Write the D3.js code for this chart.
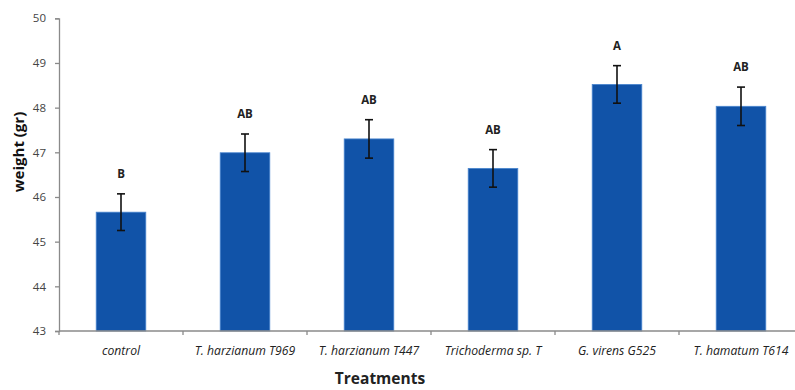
<!DOCTYPE html>
<html>
  <head>
    <meta charset="UTF-8">
    <script src="https://d3js.org/d3.v7.min.js"></script>
    <style>
      body { margin: 0; background: #fff; }
      text { font-family: "Open Sans", "DejaVu Sans", sans-serif; }
    </style>
  </head>
  <body>
    <svg id="f1" width="795" height="390"></svg>
    <script>
    // data
    var treatments = ["control", "T. harzianum T969", "T. harzianum T447", "Trichoderma sp. T", "G. virens G525", "T. hamatum T614"];
    var weights = [45.66, 46.99, 47.30, 46.64, 48.52, 48.03];
    var errors = [0.41, 0.42, 0.43, 0.42, 0.42, 0.43];
    var groups = ["B", "AB", "AB", "AB", "A", "AB"];
    var yTicks = [43, 44, 45, 46, 47, 48, 49, 50];

    var svg = d3.select("#f1");
    var x0 = 59, x1 = 803, yBottom = 331, yTop = 18.3;

    var x = d3.scaleBand()
      .domain(treatments)
      .range([x0, x1])
      .paddingInner(0.6)
      .paddingOuter(0.3);

    var y = d3.scaleLinear()
      .domain([43, 50])
      .range([yBottom, yTop]);

    // bars
    svg.selectAll(".bar")
      .data(treatments)
      .enter().append("rect")
      .attr("class", "bar")
      .attr("x", function(d) { return x(d); })
      .attr("width", x.bandwidth())
      .attr("y", function(d, i) { return y(weights[i]); })
      .attr("height", function(d, i) { return yBottom - y(weights[i]); })
      .attr("fill", "#1153a8")
      .attr("stroke", "#4a86cf")
      .attr("stroke-width", 0.8);

    // error bars
    var eb = svg.selectAll(".err")
      .data(treatments)
      .enter().append("g")
      .attr("class", "err")
      .attr("stroke", "#111")
      .attr("stroke-width", 1.6);
    eb.append("line")
      .attr("x1", function(d) { return x(d) + x.bandwidth() / 2; })
      .attr("x2", function(d) { return x(d) + x.bandwidth() / 2; })
      .attr("y1", function(d, i) { return y(weights[i] + errors[i]); })
      .attr("y2", function(d, i) { return y(weights[i] - errors[i]); });
    [1, -1].forEach(function(s) {
      eb.append("line")
        .attr("x1", function(d) { return x(d) + x.bandwidth() / 2 - 4; })
        .attr("x2", function(d) { return x(d) + x.bandwidth() / 2 + 4; })
        .attr("y1", function(d, i) { return y(weights[i] + s * errors[i]); })
        .attr("y2", function(d, i) { return y(weights[i] + s * errors[i]); });
    });

    // significance letters
    svg.selectAll(".grp")
      .data(treatments)
      .enter().append("text")
      .attr("x", function(d) { return x(d) + x.bandwidth() / 2; })
      .attr("y", function(d, i) { return y(weights[i] + errors[i]) - 16; })
      .attr("text-anchor", "middle")
      .attr("font-size", 11.5)
      .attr("font-weight", "bold")
      .attr("fill", "#222")
      .text(function(d, i) { return groups[i]; });

    // y axis
    var yAxis = svg.append("g")
      .attr("transform", "translate(" + x0 + ",0)")
      .call(d3.axisLeft(y).tickValues(yTicks).tickSize(4).tickPadding(9).tickFormat(d3.format("d")));
    yAxis.select(".domain").attr("stroke", "#8a8a8a").attr("stroke-width", 1.3);
    yAxis.selectAll(".tick line").attr("stroke", "#8a8a8a").attr("stroke-width", 1.3);
    yAxis.selectAll(".tick text")
      .attr("font-size", 11.5)
      .attr("fill", "#444")
      .attr("font-family", "'Open Sans', sans-serif");

    // x axis with ticks at category boundaries
    var xAxis = svg.append("g").attr("transform", "translate(0," + yBottom + ")");
    xAxis.append("line")
      .attr("x1", x0).attr("x2", x1)
      .attr("stroke", "#8a8a8a").attr("stroke-width", 1.3);
    var bounds = d3.range(treatments.length + 1).map(function(i) { return x0 + (x1 - x0) * i / treatments.length; });
    xAxis.selectAll(".xt")
      .data(bounds)
      .enter().append("line")
      .attr("x1", function(d) { return d; })
      .attr("x2", function(d) { return d; })
      .attr("y1", 0).attr("y2", 4)
      .attr("stroke", "#8a8a8a").attr("stroke-width", 1.3);
    xAxis.selectAll(".xl")
      .data(treatments)
      .enter().append("text")
      .attr("x", function(d) { return x(d) + x.bandwidth() / 2; })
      .attr("y", 24)
      .attr("text-anchor", "middle")
      .attr("font-size", 12.2)
      .attr("font-style", "italic")
      .attr("fill", "#222")
      .text(function(d) { return d; });

    // axis titles
    svg.append("text")
      .attr("x", 380)
      .attr("y", 384)
      .attr("text-anchor", "middle")
      .attr("font-size", 15.5)
      .attr("font-weight", "bold")
      .attr("fill", "#222")
      .text("Treatments");

    svg.append("text")
      .attr("transform", "translate(24,152) rotate(-90)")
      .attr("text-anchor", "middle")
      .attr("font-size", 15)
      .attr("font-weight", "bold")
      .attr("fill", "#111")
      .text("weight (gr)");
    </script>
  </body>
</html>
